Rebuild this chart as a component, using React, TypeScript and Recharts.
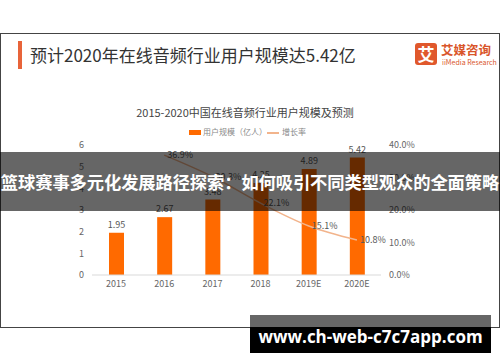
import { ComposedChart, Bar, Line, XAxis, YAxis, LabelList } from 'recharts';

const years = ["2015", "2016", "2017", "2018", "2019E", "2020E"];
const users = [1.95, 2.67, 3.48, 4.25, 4.89, 5.42];
const growth = [null, 36.9, 30.3, 22.1, 15.1, 10.8];
const leftTicks = [0, 1, 2, 3, 4, 5, 6];
const rightTicks = [0, 5, 10, 15, 20, 25, 30, 35, 40];

const FONT = '"Noto Sans CJK SC", "Noto Sans", sans-serif';
const BAR = "#ff6a00";
const LINE = "#f2b48c";

const data = years.map((year, i) => ({ year, users: users[i], growth: growth[i] }));

export default function App() {
  return (
    <div style={{ position: 'absolute', left: 0, top: 0, width: 500, height: 362, background: '#fff', fontFamily: FONT, overflow: 'hidden' }}>
      {/* frame */}
      <div style={{ position: 'absolute', left: 0, top: 33, width: 498, height: 293, border: '1px solid #444' }} />
      <div style={{ position: 'absolute', left: 18, top: 41, width: 4, height: 28, background: '#e8643a' }} />
      <div style={{ position: 'absolute', left: 30, top: 42, fontSize: 17, color: '#333', lineHeight: '26px', whiteSpace: 'nowrap' }}>
        预计2020年在线音频行业用户规模达5.42亿
      </div>
      {/* logo */}
      <div style={{ position: 'absolute', left: 415, top: 43, width: 22, height: 22, background: '#e0582c', borderRadius: 3, color: '#fff', fontSize: 17, fontWeight: 700, textAlign: 'center', lineHeight: '22px' }}>艾</div>
      <div style={{ position: 'absolute', left: 441, top: 42, fontSize: 12.5, fontWeight: 700, color: '#d9552a', lineHeight: '16px', whiteSpace: 'nowrap' }}>艾媒咨询</div>
      <div style={{ position: 'absolute', left: 442, top: 58, fontSize: 7, color: '#d9552a', lineHeight: '9px', whiteSpace: 'nowrap' }}>iiMedia Research</div>
      {/* subtitle */}
      <div style={{ position: 'absolute', left: 0, width: 490, top: 104, textAlign: 'center', fontSize: 11, color: '#444', lineHeight: '16px' }}>
        2015-2020中国在线音频行业用户规模及预测
      </div>
      {/* legend */}
      <div style={{ position: 'absolute', left: 189, top: 130, width: 12, height: 5, background: BAR }} />
      <div style={{ position: 'absolute', left: 203, top: 126, fontSize: 8, color: '#888', lineHeight: '12px', whiteSpace: 'nowrap' }}>用户规模（亿人）</div>
      <div style={{ position: 'absolute', left: 267, top: 132, width: 12, height: 1.5, background: LINE }} />
      <div style={{ position: 'absolute', left: 282, top: 126, fontSize: 8, color: '#888', lineHeight: '12px', whiteSpace: 'nowrap' }}>增长率</div>

      <div style={{ position: 'absolute', left: 0, top: 0 }}>
        <ComposedChart width={500} height={362} data={data} margin={{ top: 145, right: 79, bottom: 67, left: 62 }} barCategoryGap="35%">
          <XAxis dataKey="year" axisLine={{ stroke: '#d9d9d9' }} tickLine={false} tickMargin={0} height={20}
            tick={{ fontSize: 9, fill: '#666', fontFamily: FONT }} />
          <YAxis yAxisId="left" domain={[0, 6]} ticks={leftTicks} width={30} axisLine={false} tickLine={false}
            tick={{ fontSize: 9, fill: '#666', fontFamily: FONT }} />
          <YAxis yAxisId="right" orientation="right" domain={[0, 40]} ticks={rightTicks} width={40} axisLine={false} tickLine={false}
            tickFormatter={(v: number) => `${v.toFixed(1)}%`} tick={{ fontSize: 9, fill: '#666', fontFamily: FONT, textAnchor: 'start' }} />
          <Bar yAxisId="left" dataKey="users" fill={BAR} barSize={15} isAnimationActive={false}>
            <LabelList dataKey="users" position="top" offset={5} style={{ fontSize: 9, fill: '#555', fontFamily: FONT }} formatter={(v: number) => v.toFixed(2)} />
          </Bar>
          <Line yAxisId="right" dataKey="growth" type="monotone" stroke={LINE} strokeWidth={1.5} dot={false} connectNulls isAnimationActive={false}>
            <LabelList dataKey="growth" position="right" offset={3} style={{ fontSize: 9, fill: '#555', fontFamily: FONT }} formatter={(v: number) => (v == null ? '' : `${v.toFixed(1)}%`)} />
          </Line>
        </ComposedChart>
      </div>

      {/* overlay banner */}
      <div style={{ position: 'absolute', left: 0, top: 152, width: 500, height: 59, background: 'rgba(0,0,0,0.6)' }} />
      <div style={{ position: 'absolute', left: 0, top: 152, width: 500, height: 59, color: '#fff', fontSize: 17.3, fontWeight: 700, lineHeight: '59px', textAlign: 'center', whiteSpace: 'nowrap', letterSpacing: -0.1 }}>
        篮球赛事多元化发展路径探索：如何吸引不同类型观众的全面策略
      </div>
      {/* watermark */}
      <div style={{ position: 'absolute', left: 250, top: 315, width: 241, height: 12, background: '#666' }} />
      <div style={{ position: 'absolute', left: 250, top: 327, width: 241, height: 26, background: '#000' }} />
      <div style={{ position: 'absolute', left: 250, top: 318, width: 241, textAlign: 'center', color: '#fff', fontSize: 17, fontWeight: 700, lineHeight: '38px', fontFamily: '"Open Sans", "Noto Sans", sans-serif', whiteSpace: 'nowrap' }}>
        www.ch-web-c7c7app.com
      </div>
    </div>
  );
}
